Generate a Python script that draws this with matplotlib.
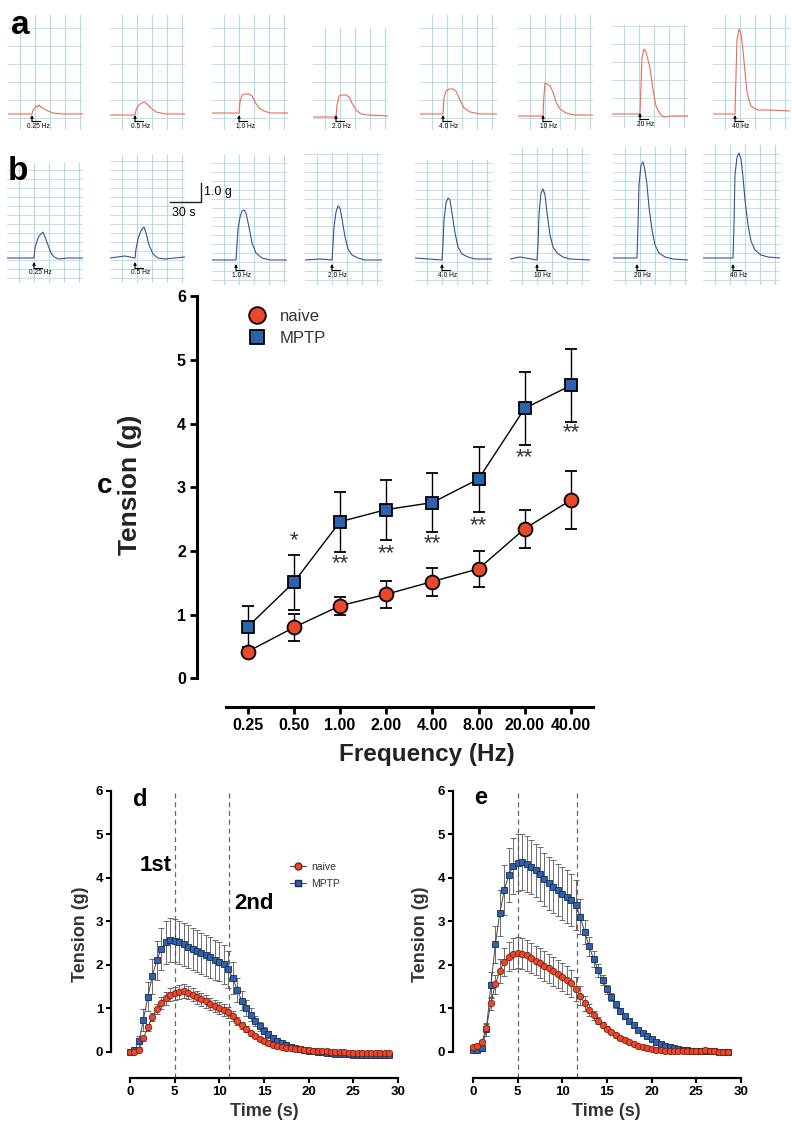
import matplotlib
matplotlib.use('Agg')
import matplotlib.pyplot as plt
from matplotlib.lines import Line2D
import numpy as np

plt.rcParams['font.family'] = ['Liberation Sans', 'DejaVu Sans']

W, H = 792, 1125
RED = '#e9482c'
BLUE = '#2c62b0'

# ---------------- panels a / b : raw traces (pixels inside each box) ----------------
trace_labels = ['0.25 Hz', '0.5 Hz', '1.0 Hz', '2.0 Hz', '4.0 Hz', '10 Hz', '20 Hz', '40 Hz']

naive_trace_x = [
    [0, 24, 25, 27, 28, 30, 31, 33, 36, 40, 45, 55, 75],
    [0, 25, 26, 28, 30, 32, 34, 37, 41, 46, 55, 75],
    [0, 27, 28, 30, 33, 37, 40, 43, 47, 52, 58, 76],
    [0, 23, 24, 26, 29, 33, 36, 39, 43, 48, 55, 75],
    [0, 23, 24, 26, 29, 33, 36, 40, 44, 50, 60, 77],
    [0, 25, 26, 27, 29, 32, 35, 38, 42, 48, 56, 75],
    [0, 28, 29, 30, 32, 34, 36, 38, 41, 44, 48, 52, 60, 76],
    [0, 22, 23, 24, 26, 28, 30, 32, 34, 36, 38, 41, 45, 55, 77],
]
naive_trace_y = [
    [16, 16, 20, 22, 24, 23, 25, 23, 21, 19, 17, 16, 16],
    [15, 15, 20, 24, 26, 27, 28, 26, 22, 18, 16, 16],
    [17, 17, 28, 35, 36, 36, 34, 28, 22, 19, 17, 17],
    [13, 13, 25, 34, 35, 35, 33, 27, 20, 16, 15, 14],
    [16, 16, 32, 39, 41, 41, 39, 30, 22, 18, 16, 16],
    [14, 14, 35, 47, 46, 44, 38, 28, 21, 17, 15, 15],
    [14, 14, 43, 70, 79, 76, 68, 60, 38, 22, 14, 11, 12, 12],
    [16, 16, 55, 90, 101, 96, 80, 58, 38, 30, 24, 22, 20, 20, 19],
]
mptp_trace_x = [
    [0, 27, 28, 30, 32, 34, 36, 38, 41, 44, 47, 52, 60, 76],
    [0, 15, 25, 26, 28, 30, 32, 34, 36, 39, 43, 48, 55, 75],
    [0, 24, 25, 26, 28, 30, 32, 34, 37, 40, 44, 50, 58, 75],
    [0, 15, 27, 28, 29, 31, 33, 35, 37, 40, 43, 47, 53, 60, 77],
    [0, 27, 28, 29, 31, 33, 35, 37, 40, 43, 47, 53, 60, 77],
    [0, 10, 27, 28, 29, 31, 33, 35, 37, 40, 43, 47, 53, 60, 80],
    [0, 24, 25, 26, 28, 30, 32, 34, 36, 39, 42, 46, 52, 60, 75],
    [0, 30, 31, 32, 34, 36, 38, 40, 42, 45, 48, 52, 58, 65, 77],
]
mptp_trace_y = [
    [25, 25, 35, 42, 47, 49, 51, 46, 38, 30, 26, 24, 25, 25],
    [25, 27, 25, 34, 44, 50, 54, 56, 50, 38, 29, 25, 24, 26],
    [25, 25, 40, 56, 68, 74, 75, 72, 58, 42, 32, 27, 25, 25],
    [25, 26, 25, 40, 58, 73, 79, 77, 66, 48, 36, 30, 27, 25, 25],
    [27, 25, 40, 65, 82, 87, 85, 72, 52, 38, 31, 28, 26, 26],
    [26, 28, 25, 40, 70, 92, 96, 90, 72, 50, 38, 32, 28, 26, 25],
    [27, 27, 60, 100, 120, 123, 115, 100, 78, 55, 40, 32, 28, 26, 25],
    [27, 27, 60, 110, 128, 132, 126, 108, 85, 60, 44, 35, 30, 28, 27],
]
stim_a = [24, 25, 27, 23, 23, 25, 28, 22]
stim_b = [27, 25, 24, 27, 27, 27, 24, 30]

# box layout (left, top, right, bottom) in figure pixels
boxes_a = [(8, 15, 83, 130), (110, 15, 185, 130), (212, 15, 288, 130), (313, 28, 388, 130),
           (420, 15, 497, 130), (518, 15, 593, 130), (612, 25, 688, 128), (713, 15, 790, 130)]
boxes_b = [(7, 163, 83, 283), (110, 155, 185, 283), (212, 155, 287, 285), (305, 153, 382, 285),
           (415, 160, 492, 285), (510, 148, 590, 285), (613, 147, 688, 285), (703, 145, 780, 285)]

# ---------------- panel c ----------------
freq_c = ['0.25', '0.50', '1.00', '2.00', '4.00', '8.00', '20.00', '40.00']
naive_c = [0.42, 0.80, 1.14, 1.32, 1.52, 1.72, 2.35, 2.80]
naive_c_err = [0.05, 0.21, 0.14, 0.21, 0.22, 0.28, 0.30, 0.45]
mptp_c = [0.81, 1.51, 2.46, 2.65, 2.76, 3.13, 4.24, 4.60]
mptp_c_err = [0.32, 0.43, 0.47, 0.47, 0.46, 0.51, 0.57, 0.57]
sig_c = ['', '*', '**', '**', '**', '**', '**', '**']
sig_c_y = [0, 2.16, 1.80, 1.96, 2.12, 2.40, 3.46, 3.86]

# ---------------- panels d / e ----------------
time_d = [0, 0.5, 1, 1.5, 2, 2.5, 3, 3.5, 4, 4.5, 5, 5.5, 6, 6.5, 7, 7.5, 8, 8.5, 9, 9.5,
          10, 10.5, 11, 11.5, 12, 12.5, 13, 13.5, 14, 14.5, 15, 15.5, 16, 16.5, 17, 17.5,
          18, 18.5, 19, 19.5, 20, 20.5, 21, 21.5, 22, 22.5, 23, 23.5, 24, 24.5, 25, 25.5,
          26, 26.5, 27, 27.5, 28, 28.5, 29]
naive_d = [0.00, 0.00, 0.05, 0.31, 0.57, 0.80, 0.99, 1.13, 1.23, 1.31,
           1.35, 1.37, 1.39, 1.36, 1.31, 1.26, 1.21, 1.16, 1.11, 1.06,
           1.01, 0.96, 0.91, 0.83, 0.71, 0.61, 0.52, 0.43, 0.36, 0.30,
           0.25, 0.21, 0.17, 0.14, 0.12, 0.10, 0.08, 0.07, 0.06, 0.05,
           0.04, 0.03, 0.02, 0.02, 0.01, 0.00, 0.00, -0.01, -0.01, -0.02,
           -0.02, -0.02, -0.02, -0.02, -0.02, -0.02, -0.02, -0.02, -0.02]
naive_d_err = [0.02, 0.02, 0.03, 0.06, 0.08, 0.10, 0.12, 0.14, 0.15, 0.15,
               0.15, 0.16, 0.16, 0.15, 0.15, 0.15, 0.15, 0.14, 0.14, 0.14,
               0.13, 0.13, 0.12, 0.11, 0.10, 0.08, 0.07, 0.06, 0.05, 0.05,
               0.04, 0.04, 0.03, 0.03, 0.03, 0.03, 0.02, 0.02, 0.02, 0.02,
               0.02, 0.02, 0.02, 0.02, 0.02, 0.02, 0.02, 0.02, 0.02, 0.02,
               0.02, 0.02, 0.02, 0.02, 0.02, 0.02, 0.02, 0.02, 0.02]
mptp_d = [0.00, 0.04, 0.24, 0.74, 1.27, 1.74, 2.11, 2.37, 2.52, 2.57,
          2.56, 2.52, 2.47, 2.42, 2.37, 2.32, 2.27, 2.22, 2.17, 2.12,
          2.07, 2.01, 1.90, 1.70, 1.43, 1.18, 1.01, 0.85, 0.71, 0.59,
          0.49, 0.40, 0.33, 0.26, 0.21, 0.16, 0.12, 0.09, 0.06, 0.04,
          0.02, 0.01, 0.00, -0.01, -0.02, -0.03, -0.04, -0.04, -0.05, -0.05,
          -0.06, -0.06, -0.06, -0.07, -0.07, -0.07, -0.07, -0.07, -0.07]
mptp_d_err = [0.02, 0.05, 0.12, 0.25, 0.33, 0.40, 0.45, 0.48, 0.50, 0.50,
              0.50, 0.50, 0.49, 0.49, 0.48, 0.48, 0.47, 0.47, 0.46, 0.46,
              0.45, 0.44, 0.42, 0.36, 0.28, 0.22, 0.18, 0.15, 0.12, 0.10,
              0.08, 0.07, 0.06, 0.05, 0.05, 0.04, 0.04, 0.03, 0.03, 0.03,
              0.03, 0.03, 0.03, 0.03, 0.03, 0.03, 0.03, 0.03, 0.03, 0.03,
              0.03, 0.03, 0.03, 0.03, 0.03, 0.03, 0.03, 0.03, 0.03]

time_e = [0, 0.5, 1, 1.5, 2, 2.5, 3, 3.5, 4, 4.5, 5, 5.5, 6, 6.5, 7, 7.5, 8, 8.5, 9, 9.5,
          10, 10.5, 11, 11.5, 12, 12.5, 13, 13.5, 14, 14.5, 15, 15.5, 16, 16.5, 17, 17.5,
          18, 18.5, 19, 19.5, 20, 20.5, 21, 21.5, 22, 22.5, 23, 23.5, 24, 24.5, 25, 25.5,
          26, 26.5, 27, 27.5, 28, 28.5]
naive_e = [0.11, 0.13, 0.22, 0.56, 1.12, 1.55, 1.86, 2.07, 2.19, 2.26,
           2.28, 2.26, 2.22, 2.16, 2.10, 2.04, 1.98, 1.92, 1.85, 1.79,
           1.72, 1.65, 1.58, 1.45, 1.29, 1.12, 0.96, 0.84, 0.72, 0.62,
           0.53, 0.45, 0.38, 0.32, 0.27, 0.22, 0.18, 0.14, 0.11, 0.09,
           0.07, 0.05, 0.04, 0.03, 0.02, 0.02, 0.01, 0.01, 0.01, 0.01,
           0.02, 0.02, 0.04, 0.02, 0.01, 0.00, 0.00, 0.00]
naive_e_err = [0.02, 0.03, 0.05, 0.08, 0.15, 0.22, 0.28, 0.32, 0.34, 0.35,
               0.35, 0.35, 0.35, 0.35, 0.34, 0.34, 0.34, 0.33, 0.33, 0.33,
               0.32, 0.32, 0.31, 0.27, 0.22, 0.17, 0.13, 0.10, 0.08, 0.07,
               0.06, 0.05, 0.05, 0.04, 0.04, 0.03, 0.03, 0.03, 0.02, 0.02,
               0.02, 0.02, 0.02, 0.02, 0.02, 0.02, 0.02, 0.02, 0.02, 0.02,
               0.02, 0.02, 0.02, 0.02, 0.02, 0.02, 0.02, 0.02]
mptp_e = [0.05, 0.05, 0.08, 0.52, 1.53, 2.47, 3.19, 3.72, 4.06, 4.27,
          4.35, 4.37, 4.32, 4.25, 4.17, 4.08, 3.97, 3.88, 3.80, 3.72,
          3.64, 3.57, 3.50, 3.38, 3.11, 2.76, 2.43, 2.13, 1.88, 1.65,
          1.44, 1.27, 1.10, 0.95, 0.82, 0.71, 0.61, 0.51, 0.43, 0.36,
          0.29, 0.23, 0.18, 0.14, 0.11, 0.08, 0.06, 0.05, 0.04, 0.03,
          0.02, 0.02, 0.01, 0.01, 0.01, 0.00, 0.00, 0.00]
mptp_e_err = [0.02, 0.03, 0.05, 0.15, 0.30, 0.42, 0.52, 0.58, 0.62, 0.64,
              0.65, 0.65, 0.64, 0.63, 0.62, 0.62, 0.61, 0.61, 0.60, 0.60,
              0.60, 0.60, 0.60, 0.58, 0.40, 0.28, 0.22, 0.18, 0.15, 0.12,
              0.10, 0.09, 0.08, 0.07, 0.06, 0.05, 0.05, 0.04, 0.04, 0.03,
              0.03, 0.03, 0.03, 0.03, 0.03, 0.03, 0.03, 0.03, 0.03, 0.03,
              0.02, 0.02, 0.02, 0.02, 0.02, 0.02, 0.02, 0.02]
vlines_d = [5, 11.1]
vlines_e = [5, 11.65]


def px_axes(fig, box):
    l, t, r, b = box
    ax = fig.add_axes([l / W, 1 - b / H, (r - l) / W, (b - t) / H])
    ax.set_xlim(0, r - l)
    ax.set_ylim(0, b - t)
    ax.axis('off')
    return ax


def trace_box(fig, box, xs, ys, sx, label, color, hstep, hstart, arrow_y):
    ax = px_axes(fig, box)
    w = box[2] - box[0]
    h = box[3] - box[1]
    for gx in np.arange(12, w, 15):
        ax.plot([gx, gx], [0, h], color='#b3dde5', lw=0.8, zorder=1)
    for gy in np.arange(hstart, h, hstep):
        ax.plot([0, w], [gy, gy], color='#b3dde5', lw=0.6, zorder=1)
    ax.plot(xs, ys, color=color, lw=0.8, zorder=3)
    lo, hi = arrow_y
    ax.annotate('', xy=(sx, hi), xytext=(sx, lo),
                arrowprops=dict(arrowstyle='-|>', color='k', lw=0.8, mutation_scale=4,
                                shrinkA=0, shrinkB=0), zorder=4)
    ax.plot([sx, sx + 8], [lo + 1.5, lo + 1.5], color='k', lw=0.8, zorder=4)
    ax.text(sx + 6, lo - 4, label, fontsize=4.8, ha='center', va='center', zorder=4)


def prism_axes(ax, lw):
    ax.spines['top'].set_visible(False)
    ax.spines['right'].set_visible(False)
    for s in ('left', 'bottom'):
        ax.spines[s].set_linewidth(lw)
    ax.patch.set_alpha(0)


def main():
    fig = plt.figure(figsize=(W / 100, H / 100), dpi=100)

    # ---- a / b ----
    for i in range(8):
        trace_box(fig, boxes_a[i], naive_trace_x[i], naive_trace_y[i], stim_a[i],
                  trace_labels[i], '#ee6a52', 18, 12, (8, 15))
        trace_box(fig, boxes_b[i], mptp_trace_x[i], mptp_trace_y[i], stim_b[i],
                  trace_labels[i], '#3e4c9c', 9, 5, (14, 21))

    # ---- c ----
    ax = fig.add_axes([197 / W, 1 - 707 / H, (593 - 197) / W, (707 - 295) / H])
    prism_axes(ax, 2.2)
    xpos = np.arange(len(freq_c))
    ax.errorbar(xpos, mptp_c, yerr=mptp_c_err, fmt='-s', color='k', mfc=BLUE, mec='k',
                ms=9, mew=1.3, lw=1, capsize=4.5, elinewidth=1, capthick=1, zorder=3)
    ax.errorbar(xpos, naive_c, yerr=naive_c_err, fmt='-o', color='k', mfc=RED, mec='k',
                ms=10, mew=1.3, lw=1, capsize=4.5, elinewidth=1, capthick=1, zorder=4)
    for x, s, y in zip(xpos, sig_c, sig_c_y):
        if s:
            ax.text(x, y, s, ha='center', va='center', fontsize=16, color='#333333')
    ax.set_xlim(-1.1, 7.48)
    ax.set_ylim(-0.45, 6.02)
    ax.spines['left'].set_bounds(0, 6)
    ax.spines['bottom'].set_bounds(-0.48, 7.48)
    ax.set_yticks(range(7))
    ax.set_xticks(xpos)
    ax.set_xticklabels(freq_c)
    ax.tick_params(axis='both', width=2, length=5, labelsize=11.5, pad=3)
    for t in ax.get_xticklabels() + ax.get_yticklabels():
        t.set_fontweight('bold')
    ax.set_ylabel('Tension (g)', fontsize=19, fontweight='bold', color='#222222')
    ax.yaxis.set_label_coords(-0.14, 0.54)
    ax.set_xlabel('Frequency (Hz)', fontsize=17.5, fontweight='bold', color='#222222')
    ax.xaxis.set_label_coords(0.58, -0.087)
    handles = [Line2D([], [], ls='none', marker='o', mfc=RED, mec='k', ms=12, mew=1.3),
               Line2D([], [], ls='none', marker='s', mfc=BLUE, mec='k', ms=10, mew=1.3)]
    ax.legend(handles, ['naive', 'MPTP'], loc='upper left', frameon=False, fontsize=12,
              bbox_to_anchor=(249 / W, 1 - 309 / H), bbox_transform=fig.transFigure,
              borderaxespad=0, borderpad=0, handlelength=1.0, handletextpad=0.85,
              labelspacing=0.4, labelcolor='#333333')

    # ---- d / e ----
    specs = [
        (111, 130, 398, time_d, naive_d, naive_d_err, mptp_d, mptp_d_err, vlines_d),
        (453, 473, 741, time_e, naive_e, naive_e_err, mptp_e, mptp_e_err, vlines_e),
    ]
    axes_de = []
    for left, x0, x30, t, nv, nve, mp, mpe, vl in specs:
        ax = fig.add_axes([left / W, 1 - 1078 / H, (x30 - left) / W, (1078 - 790) / H])
        prism_axes(ax, 1.6)
        span = (x30 - x0) / 30.0
        ax.set_xlim(-(x0 - left) / span, 30)
        ax.set_ylim(-0.6, 6.02)
        ax.spines['left'].set_bounds(0, 6)
        ax.spines['bottom'].set_bounds(0, 30)
        for v in vl:
            ax.axvline(v, color='#666666', lw=0.9, ls=(0, (4, 3)), zorder=1)
        ax.errorbar(t, mp, yerr=mpe, fmt='-s', color='#444444', mfc=BLUE, mec='#1a2a4a',
                    ms=4.6, mew=0.6, lw=0.7, ecolor='#555555', elinewidth=0.6,
                    capsize=2.5, capthick=0.6, zorder=2)
        ax.errorbar(t, nv, yerr=nve, fmt='-o', color='#444444', mfc=RED, mec='#7a2010',
                    ms=4.6, mew=0.6, lw=0.7, ecolor='#555555', elinewidth=0.6,
                    capsize=2.5, capthick=0.6, zorder=3)
        ax.set_yticks(range(7))
        ax.set_xticks([0, 5, 10, 15, 20, 25, 30])
        ax.tick_params(axis='both', width=1.5, length=3.5, labelsize=9.5, pad=2)
        for tl in ax.get_xticklabels() + ax.get_yticklabels():
            tl.set_fontweight('bold')
        ax.set_ylabel('Tension (g)', fontsize=13, fontweight='bold', color='#333333')
        ax.set_xlabel('Time (s)', fontsize=13, fontweight='bold', color='#333333')
        ax.xaxis.set_label_coords(0.534, -0.087)
        axes_de.append(ax)

    axd, axe = axes_de
    axd.yaxis.set_label_coords(-0.077, 0.5)
    axe.yaxis.set_label_coords(-0.083, 0.5)
    axd.text(1.1, 4.28, '1st', fontsize=16, fontweight='bold', va='center', ha='left')
    axd.text(11.7, 3.4, '2nd', fontsize=16, fontweight='bold', va='center', ha='left')
    hd = [Line2D([], [], color='#444444', lw=0.7, marker='o', mfc=RED, mec='#7a2010', ms=5),
          Line2D([], [], color='#444444', lw=0.7, marker='s', mfc=BLUE, mec='#1a2a4a', ms=5)]
    axd.legend(hd, ['naive', 'MPTP'], loc='upper left', frameon=False, fontsize=7.5,
               bbox_to_anchor=(290 / W, 1 - 862 / H), bbox_transform=fig.transFigure,
               borderaxespad=0, borderpad=0, handlelength=1.5, handletextpad=0.5,
               labelspacing=0.65, labelcolor='#333333')

    # ---- overlay: panel letters and scale bar ----
    ov = fig.add_axes([0, 0, 1, 1])
    ov.set_xlim(0, W)
    ov.set_ylim(H, 0)
    ov.axis('off')
    ov.patch.set_alpha(0)
    ov.text(20, 25, 'a', fontsize=24, fontweight='bold', ha='center', va='center')
    ov.text(18, 172, 'b', fontsize=24, fontweight='bold', ha='center', va='center')
    ov.text(105, 486, 'c', fontsize=20, fontweight='bold', ha='center', va='center')
    ov.text(140, 799, 'd', fontsize=17, fontweight='bold', ha='center', va='center')
    ov.text(481, 798, 'e', fontsize=17, fontweight='bold', ha='center', va='center')
    ov.plot([170, 201, 201], [202, 202, 183], color='#222222', lw=1.0)
    ov.text(204, 192, '1.0 g', fontsize=9, ha='left', va='center')
    ov.text(172, 213, '30 s', fontsize=9, ha='left', va='center')

    fig.savefig('out.png', dpi=100)


if __name__ == '__main__':
    main()
